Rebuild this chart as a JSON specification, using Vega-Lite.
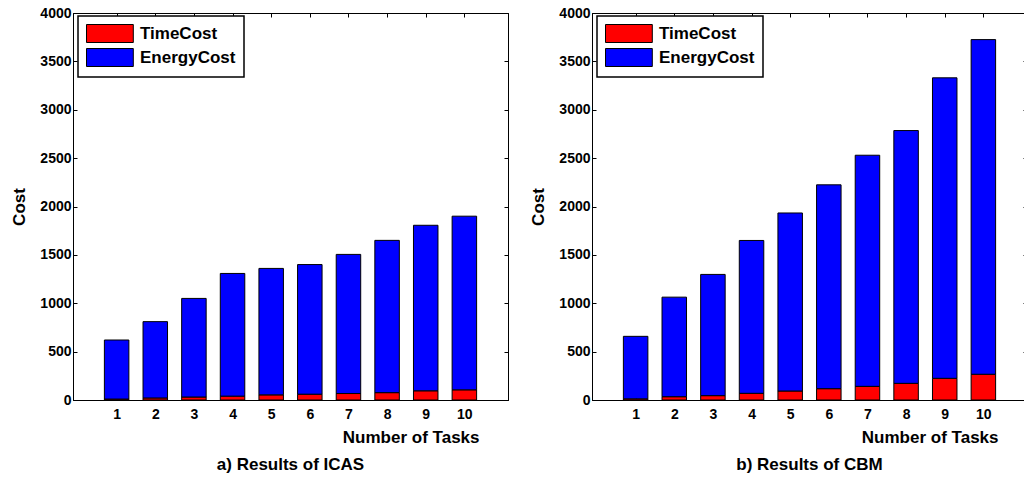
{
  "$schema": "https://vega.github.io/schema/vega-lite/v6.json",
  "background": "white",
  "padding": {"left": 9, "top": 5, "right": 0, "bottom": 0},
  "spacing": 19,
  "datasets": {
    "icas": [
      {"tasks": 1, "part": "TimeCost", "cost": 10}, {"tasks": 1, "part": "EnergyCost", "cost": 610},
      {"tasks": 2, "part": "TimeCost", "cost": 21}, {"tasks": 2, "part": "EnergyCost", "cost": 789},
      {"tasks": 3, "part": "TimeCost", "cost": 31}, {"tasks": 3, "part": "EnergyCost", "cost": 1019},
      {"tasks": 4, "part": "TimeCost", "cost": 40}, {"tasks": 4, "part": "EnergyCost", "cost": 1268},
      {"tasks": 5, "part": "TimeCost", "cost": 53}, {"tasks": 5, "part": "EnergyCost", "cost": 1307},
      {"tasks": 6, "part": "TimeCost", "cost": 60}, {"tasks": 6, "part": "EnergyCost", "cost": 1340},
      {"tasks": 7, "part": "TimeCost", "cost": 67}, {"tasks": 7, "part": "EnergyCost", "cost": 1438},
      {"tasks": 8, "part": "TimeCost", "cost": 76}, {"tasks": 8, "part": "EnergyCost", "cost": 1574},
      {"tasks": 9, "part": "TimeCost", "cost": 95}, {"tasks": 9, "part": "EnergyCost", "cost": 1711},
      {"tasks": 10, "part": "TimeCost", "cost": 105}, {"tasks": 10, "part": "EnergyCost", "cost": 1795}
    ],
    "cbm": [
      {"tasks": 1, "part": "TimeCost", "cost": 12}, {"tasks": 1, "part": "EnergyCost", "cost": 646},
      {"tasks": 2, "part": "TimeCost", "cost": 34}, {"tasks": 2, "part": "EnergyCost", "cost": 1029},
      {"tasks": 3, "part": "TimeCost", "cost": 45}, {"tasks": 3, "part": "EnergyCost", "cost": 1253},
      {"tasks": 4, "part": "TimeCost", "cost": 69}, {"tasks": 4, "part": "EnergyCost", "cost": 1580},
      {"tasks": 5, "part": "TimeCost", "cost": 93}, {"tasks": 5, "part": "EnergyCost", "cost": 1840},
      {"tasks": 6, "part": "TimeCost", "cost": 117}, {"tasks": 6, "part": "EnergyCost", "cost": 2107},
      {"tasks": 7, "part": "TimeCost", "cost": 141}, {"tasks": 7, "part": "EnergyCost", "cost": 2389},
      {"tasks": 8, "part": "TimeCost", "cost": 172}, {"tasks": 8, "part": "EnergyCost", "cost": 2613},
      {"tasks": 9, "part": "TimeCost", "cost": 224}, {"tasks": 9, "part": "EnergyCost", "cost": 3106},
      {"tasks": 10, "part": "TimeCost", "cost": 266}, {"tasks": 10, "part": "EnergyCost", "cost": 3459}
    ]
  },
  "hconcat": [
    {
      "title": {"text": "a) Results of ICAS", "orient": "bottom", "anchor": "middle", "offset": 12, "fontSize": 17, "fontWeight": "bold", "font": "Liberation Sans", "color": "black"},
      "width": 435,
      "height": 387,
      "data": {"name": "icas"},
      "layer": [
        {
          "mark": {"type": "bar", "width": 24.5, "stroke": "black", "strokeWidth": 1},
          "encoding": {
            "x": {"field": "tasks", "type": "quantitative", "scale": {"domain": [0, 11], "nice": false, "zero": false},
              "axis": {"orient": "bottom", "values": [1, 2, 3, 4, 5, 6, 7, 8, 9, 10], "labelPadding": 11, "labelFlush": false, "title": "Number of Tasks", "titleX": 406, "titleY": 42, "titleAlign": "right", "titleBaseline": "alphabetic", "titleAnchor": null}},
            "y": {"field": "cost", "type": "quantitative", "stack": "zero", "scale": {"domain": [0, 4000], "nice": false},
              "axis": {"orient": "left", "values": [0, 500, 1000, 1500, 2000, 2500, 3000, 3500, 4000], "format": "d", "labelPadding": 6, "title": "Cost", "titleX": -54, "titleY": 193.5, "titleAlign": "center", "titleBaseline": "middle", "titleAngle": -90}},
            "color": {"field": "part", "type": "nominal", "scale": {"domain": ["TimeCost", "EnergyCost"], "range": ["#ff0000", "#0000ff"]},
              "legend": {"orient": "none", "legendX": 5, "legendY": 3, "title": null}},
            "order": {"field": "part", "type": "nominal", "sort": "descending"}
          }
        },
        {
          "mark": {"type": "point", "opacity": 0},
          "encoding": {
            "x": {"field": "tasks", "type": "quantitative", "scale": {"domain": [0, 11], "nice": false, "zero": false},
              "axis": {"orient": "top", "values": [1, 2, 3, 4, 5, 6, 7, 8, 9, 10], "labels": false, "title": null}},
            "y": {"field": "cost", "type": "quantitative", "scale": {"domain": [0, 4000], "nice": false},
              "axis": {"orient": "right", "values": [0, 500, 1000, 1500, 2000, 2500, 3000, 3500, 4000], "labels": false, "title": null}}
          }
        }
      ],
      "resolve": {"axis": {"x": "independent", "y": "independent"}}
    },
    {
      "title": {"text": "b) Results of CBM", "orient": "bottom", "anchor": "middle", "offset": 12, "fontSize": 17, "fontWeight": "bold", "font": "Liberation Sans", "color": "black"},
      "width": 435,
      "height": 387,
      "data": {"name": "cbm"},
      "layer": [
        {
          "mark": {"type": "bar", "width": 24.5, "stroke": "black", "strokeWidth": 1},
          "encoding": {
            "x": {"field": "tasks", "type": "quantitative", "scale": {"domain": [0, 11], "nice": false, "zero": false},
              "axis": {"orient": "bottom", "values": [1, 2, 3, 4, 5, 6, 7, 8, 9, 10], "labelPadding": 11, "labelFlush": false, "title": "Number of Tasks", "titleX": 406, "titleY": 42, "titleAlign": "right", "titleBaseline": "alphabetic", "titleAnchor": null}},
            "y": {"field": "cost", "type": "quantitative", "stack": "zero", "scale": {"domain": [0, 4000], "nice": false},
              "axis": {"orient": "left", "values": [0, 500, 1000, 1500, 2000, 2500, 3000, 3500, 4000], "format": "d", "labelPadding": 6, "title": "Cost", "titleX": -54, "titleY": 193.5, "titleAlign": "center", "titleBaseline": "middle", "titleAngle": -90}},
            "color": {"field": "part", "type": "nominal", "scale": {"domain": ["TimeCost", "EnergyCost"], "range": ["#ff0000", "#0000ff"]},
              "legend": {"orient": "none", "legendX": 5, "legendY": 3, "title": null}},
            "order": {"field": "part", "type": "nominal", "sort": "descending"}
          }
        },
        {
          "mark": {"type": "point", "opacity": 0},
          "encoding": {
            "x": {"field": "tasks", "type": "quantitative", "scale": {"domain": [0, 11], "nice": false, "zero": false},
              "axis": {"orient": "top", "values": [1, 2, 3, 4, 5, 6, 7, 8, 9, 10], "labels": false, "title": null}},
            "y": {"field": "cost", "type": "quantitative", "scale": {"domain": [0, 4000], "nice": false},
              "axis": {"orient": "right", "values": [0, 500, 1000, 1500, 2000, 2500, 3000, 3500, 4000], "labels": false, "title": null}}
          }
        }
      ],
      "resolve": {"axis": {"x": "independent", "y": "independent"}}
    }
  ],
  "resolve": {"scale": {"color": "independent"}, "legend": {"color": "independent"}},
  "config": {
    "font": "Liberation Sans",
    "view": {"stroke": "black", "strokeWidth": 1},
    "axis": {"grid": false, "domainColor": "black", "domainWidth": 1, "tickColor": "black", "tickWidth": 1, "tickSize": -4,
      "labelColor": "black", "labelFont": "Liberation Sans", "labelFontSize": 14, "labelFontWeight": "bold",
      "titleColor": "black", "titleFont": "Liberation Sans", "titleFontSize": 17, "titleFontWeight": "bold"},
    "legend": {"strokeColor": "black", "strokeWidth": 1.5, "fillColor": "white", "padding": 8,
      "symbolType": "M-1,-1L4.2,-1L4.2,1L-1,1Z", "symbolSize": 324, "symbolStrokeColor": "black", "symbolStrokeWidth": 1, "symbolOpacity": 1,
      "labelFont": "Liberation Sans", "labelFontSize": 17, "labelFontWeight": "bold", "labelColor": "black", "labelOffset": 35, "rowPadding": 1}
  }
}
